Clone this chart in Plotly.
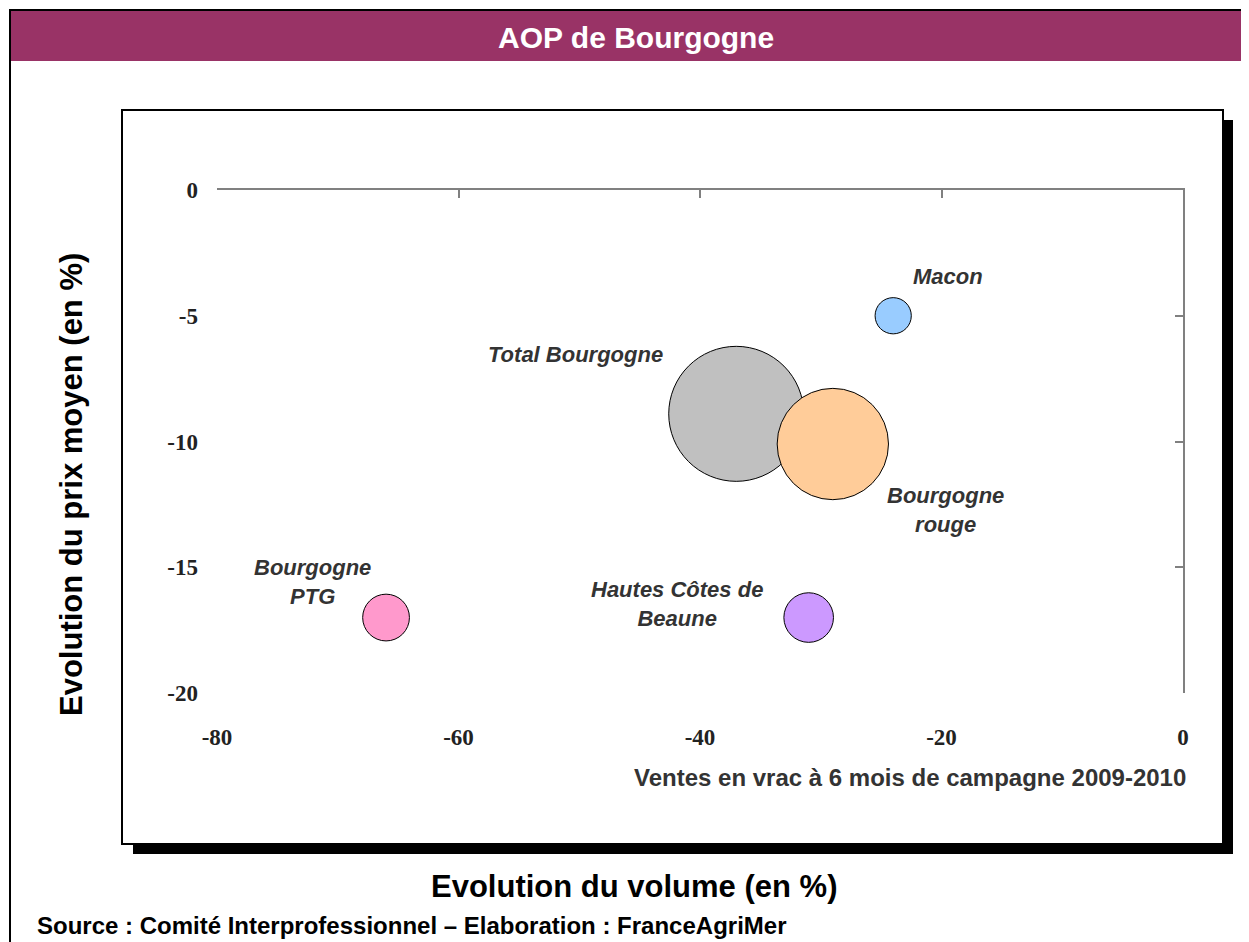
import plotly.graph_objects as go

# ---- data ----
names = ["Total Bourgogne", "Bourgogne rouge", "Macon", "Bourgogne PTG", "Hautes Côtes de Beaune"]
volume_change = [-37.0, -29.0, -24.0, -66.0, -31.0]      # x: Evolution du volume (%)
price_change = [-8.9, -10.1, -5.0, -17.0, -17.0]         # y: Evolution du prix moyen (%)
bubble_size = [100.0, 68.0, 7.2, 12.0, 13.5]             # relative volume
label_text = ["Total Bourgogne", "Bourgogne<br>rouge", "Macon", "Bourgogne<br>PTG", "Hautes Côtes de<br>Beaune"]
label_x = [-50.3, -19.7, -19.5, -72.1, -41.9]
label_y = [-6.56, -12.72, -3.42, -15.6, -16.46]
x_ticks = [-80, -60, -40, -20, 0]
y_ticks = [0, -5, -10, -15, -20]

colors = ["#C0C0C0", "#FFCC99", "#99CCFF", "#FF99CC", "#CC99FF"]

OFF = 8  # page body margin
W, H = 1249 - OFF, 942 - OFF
L, R, T, B = 217 - OFF, 1183 - OFF, 190 - OFF, 693 - OFF  # plot area in figure pixels


def px(p):
    return (p - OFF - L) / (R - L)


def py(p):
    return (B - (p - OFF)) / (B - T)


max_diam = 135
fig = go.Figure()
fig.add_trace(go.Scatter(
    x=volume_change, y=price_change, mode="markers",
    marker=dict(size=bubble_size, sizemode="area",
                sizeref=2.0 * max(bubble_size) / max_diam ** 2,
                color=colors, opacity=1,
                line=dict(color="black", width=1)),
    text=names, hoverinfo="text", showlegend=False, cliponaxis=False,
))
# helper trace for top/right axis lines
fig.add_trace(go.Scatter(x=[None], y=[None], xaxis="x2", yaxis="y2",
                         showlegend=False, hoverinfo="skip"))

tick_font = dict(family="Liberation Serif", size=23, color="#222222")
fig.update_layout(
    width=W, height=H,
    margin=dict(l=L, r=W - R, t=T, b=H - B),
    paper_bgcolor="white", plot_bgcolor="rgba(0,0,0,0)",
    xaxis=dict(range=[-80, 0], tickvals=x_ticks, ticktext=[f"<b>{v}</b>" for v in x_ticks],
               showgrid=False, zeroline=False, showline=False, ticks="",
               tickfont=tick_font, ticklabelstandoff=28),
    yaxis=dict(range=[-20, 0], tickvals=y_ticks, ticktext=[f"<b>{v}</b>" for v in y_ticks],
               showgrid=False, zeroline=False, showline=False, ticks="",
               tickfont=tick_font, ticklabelstandoff=18),
    xaxis2=dict(overlaying="x", side="top", range=[-80, 0], tickvals=x_ticks,
                showticklabels=False, showgrid=False, zeroline=False,
                showline=True, linecolor="#808080", linewidth=1.5,
                ticks="inside", ticklen=8, tickcolor="#808080", tickwidth=1.5),
    yaxis2=dict(overlaying="y", side="right", range=[-20, 0], tickvals=y_ticks,
                showticklabels=False, showgrid=False, zeroline=False,
                showline=True, linecolor="#808080", linewidth=1.5,
                ticks="inside", ticklen=8, tickcolor="#808080", tickwidth=1.5),
)

shapes = [
    # outer frame
    dict(type="rect", xref="paper", yref="paper", x0=px(10), x1=px(1262), y0=py(10), y1=py(960),
         line=dict(color="black", width=2), fillcolor="white", layer="below"),
    # title bar
    dict(type="rect", xref="paper", yref="paper", x0=px(11), x1=px(1262), y0=py(11), y1=py(61),
         line=dict(width=0), fillcolor="#993366", layer="below"),
    # inner box shadow
    dict(type="rect", xref="paper", yref="paper", x0=px(133), x1=px(1233), y0=py(120), y1=py(854),
         line=dict(width=0), fillcolor="black", layer="below"),
    # inner box
    dict(type="rect", xref="paper", yref="paper", x0=px(122), x1=px(1223), y0=py(110), y1=py(844),
         line=dict(color="black", width=2), fillcolor="white", layer="below"),
]
fig.update_layout(shapes=shapes)

annotations = [
    dict(text="<b>AOP de Bourgogne</b>", x=px(636), y=py(37), xref="paper", yref="paper",
         showarrow=False, xanchor="center", yanchor="middle",
         font=dict(family="Liberation Sans", size=30, color="white")),
    dict(text="<b>Evolution du prix moyen (en %)</b>", x=px(71), y=py(485), xref="paper", yref="paper",
         showarrow=False, xanchor="center", yanchor="middle", textangle=-90,
         font=dict(family="Liberation Sans", size=31, color="black")),
    dict(text="<b>Evolution du volume (en %)</b>", x=px(634), y=py(886), xref="paper", yref="paper",
         showarrow=False, xanchor="center", yanchor="middle",
         font=dict(family="Liberation Sans", size=31, color="black")),
    dict(text="<b>Ventes en vrac à 6 mois de campagne 2009-2010</b>", x=px(1188), y=py(777),
         xref="paper", yref="paper", showarrow=False, xanchor="right", yanchor="middle",
         font=dict(family="Liberation Sans", size=24, color="#333333")),
    dict(text="<b>Source : Comité Interprofessionnel – Elaboration : FranceAgriMer</b>",
         x=px(35), y=py(925), xref="paper", yref="paper", showarrow=False,
         xanchor="left", yanchor="middle",
         font=dict(family="Liberation Sans", size=24, color="black")),
]
for t, lx, ly in zip(label_text, label_x, label_y):
    annotations.append(dict(text=f"<b><i>{t}</i></b>", x=lx, y=ly, xref="x", yref="y",
                            showarrow=False, xanchor="center", yanchor="middle",
                            font=dict(family="Liberation Sans", size=22, color="#333333")))
fig.update_layout(annotations=annotations)

fig.write_html("out.html")
